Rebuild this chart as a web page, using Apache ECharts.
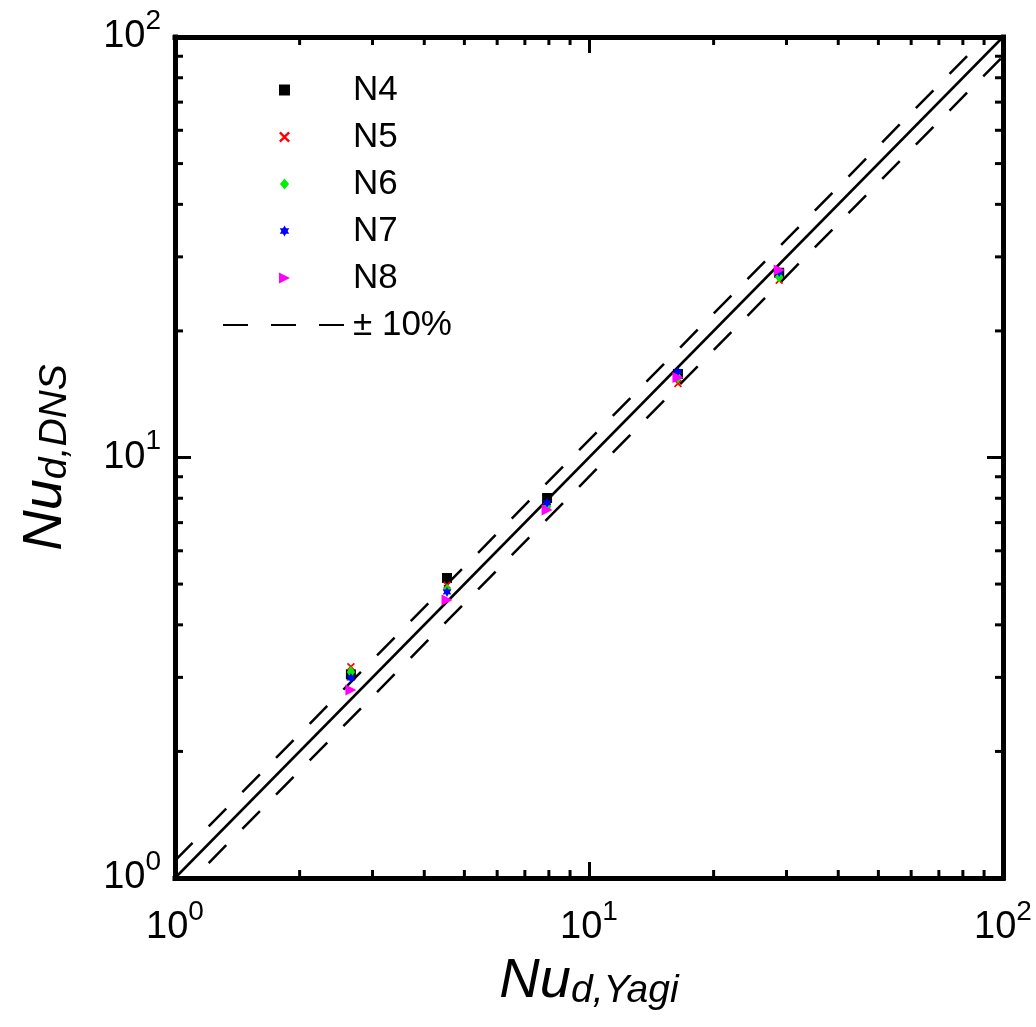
<!DOCTYPE html>
<html>
<head>
<meta charset="utf-8">
<style>
  html, body { margin: 0; padding: 0; background: #fff; }
  #chart { width: 1036px; height: 1027px; }
</style>
<script src="https://cdn.jsdelivr.net/npm/echarts@6/dist/echarts.min.js"></script>
</head>
<body>
<div id="chart"></div>
<script>
// Nusselt number: Yagi correlation (x) vs DNS (y), for five cases
const nuYagi = [2.66, 4.54, 7.92, 16.4, 28.8];
const nuN4 = [3.05, 5.17, 8.01, 15.8, 27.5];
const nuN5 = [3.18, 4.97, 7.65, 15.0, 26.4];
const nuN6 = [3.09, 4.85, 7.65, 15.5, 26.9];
const nuN7 = [2.99, 4.79, 7.80, 16.0, 27.6];
const nuN8 = [2.80, 4.58, 7.50, 15.5, 27.9];

const caseNames = ['N4', 'N5', 'N6', 'N7', 'N8'];
const bandLabel = '\u00b1 10%';
const band = 0.10;

// axis range and tick labels (powers of ten)
const axisMin = 1, axisMax = 100;
const decadeExponents = { 1: '0', 10: '1', 100: '2' };
const minorTickValues = [2, 3, 4, 5, 6, 7, 8, 9, 20, 30, 40, 50, 60, 70, 80, 90];

const FONT = 'Liberation Sans, Arial, Helvetica, sans-serif';

// marker shapes
function starPath() {
  const pts = [];
  for (let k = 0; k < 12; k++) {
    const a = -Math.PI / 2 + k * Math.PI / 6;
    const r = k % 2 === 0 ? 10 : 5.6;
    pts.push((10 + r * Math.cos(a)).toFixed(2) + ',' + (10 + r * Math.sin(a)).toFixed(2));
  }
  return 'path://M' + pts.join(' L') + ' Z';
}
const markers = {
  N4: { symbol: 'path://M0,0 H10 V10 H0 Z', size: 10, color: '#000000' },
  N5: { symbol: 'path://M0,1.5 L1.5,0 L5,3.5 L8.5,0 L10,1.5 L6.5,5 L10,8.5 L8.5,10 L5,6.5 L1.5,10 L0,8.5 L3.5,5 Z', size: 8, color: '#ff0000' },
  N6: { symbol: 'path://M5,0 L10,6 L5,12 L0,6 Z', size: [10, 12], color: '#00ee00' },
  N7: { symbol: starPath(), size: 10, color: '#0000ff' },
  N8: { symbol: 'path://M0,0 L10,5 L0,10 Z', size: 11, color: '#ff00ff' }
};
const caseValues = { N4: nuN4, N5: nuN5, N6: nuN6, N7: nuN7, N8: nuN8 };

function tickLabel(v) {
  const e = decadeExponents[Math.round(v)];
  return e === undefined ? '' : '{b|10}{s|' + e + '}';
}
const tickRich = {
  b: { fontFamily: FONT, fontSize: 38, lineHeight: 60, color: '#000' },
  s: { fontFamily: FONT, fontSize: 28, lineHeight: 20, verticalAlign: 'top', color: '#000' }
};
const titleRich = {
  n: { fontFamily: FONT, fontStyle: 'italic', fontSize: 56, lineHeight: 60, color: '#000' },
  d: { fontFamily: FONT, fontStyle: 'italic', fontSize: 39, lineHeight: 16, verticalAlign: 'bottom', color: '#000' }
};

const frameLine = { show: true, onZero: false, lineStyle: { color: '#000', width: 5, cap: 'square' } };
const majorTick = { show: true, inside: true, length: 16, lineStyle: { color: '#000', width: 3 } };

function logAxis(extra) {
  return Object.assign({
    type: 'log', logBase: 10, min: axisMin, max: axisMax,
    axisLine: frameLine, axisTick: majorTick,
    splitLine: { show: false }, minorTick: { show: false }
  }, extra);
}

const scatterSeries = caseNames.map(name => ({
  name: name,
  type: 'scatter',
  symbol: markers[name].symbol,
  symbolSize: markers[name].size,
  symbolKeepAspect: true,
  itemStyle: { color: markers[name].color, opacity: 1 },
  data: nuYagi.map((x, i) => [x, caseValues[name][i]]),
  z: 5
}));

function refLine(name, factor, dashed) {
  return {
    name: name, type: 'line', symbol: 'none', silent: true, clip: true,
    itemStyle: { color: '#000', opacity: 0 },
    lineStyle: { color: '#000', width: 2.5, type: dashed ? [25, 23] : 'solid' },
    data: [[axisMin, axisMin * factor], [axisMax, axisMax * factor]],
    z: 3
  };
}

const option = {
  animation: false,
  backgroundColor: '#fff',
  grid: { left: 175, right: 33, top: 37, bottom: 149, containLabel: false },
  xAxis: [
    logAxis({
      position: 'bottom',
      name: '{n|Nu}{d|d,Yagi}', nameLocation: 'middle', nameGap: 73,
      nameTextStyle: { rich: titleRich },
      axisLabel: { show: true, margin: 20, formatter: tickLabel, rich: tickRich, showMinLabel: true, showMaxLabel: true }
    }),
    logAxis({ position: 'top', axisLabel: { show: false } })
  ],
  yAxis: [
    logAxis({
      position: 'left',
      name: '{n|Nu}{d|d,DNS}', nameLocation: 'middle', nameGap: 100,
      nameTextStyle: { rich: titleRich },
      axisLabel: { show: true, margin: 14, formatter: tickLabel, rich: tickRich, showMinLabel: true, showMaxLabel: true }
    }),
    logAxis({ position: 'right', axisLabel: { show: false } })
  ],
  legend: {
    orient: 'vertical', left: 217, top: 67,
    itemWidth: 123, itemHeight: 11, itemGap: 11,
    symbolKeepAspect: true,
    data: caseNames.map(n => ({ name: n })).concat([{ name: bandLabel, itemStyle: { opacity: 0 } }]),
    textStyle: { fontFamily: FONT, fontSize: 35, lineHeight: 36, color: '#000', padding: [0, 0, 0, 2] },
    selectedMode: false
  },
  series: [
    refLine('y = x', 1, false),
    refLine(bandLabel, 1 + band, true),
    refLine(bandLabel, 1 - band, true)
  ].concat(scatterSeries).concat([{
    // decade sub-divisions drawn on all four sides of the frame
    type: 'custom', coordinateSystem: 'cartesian2d', silent: true, clip: false,
    data: minorTickValues.map(v => [v, v]),
    encode: { x: 0, y: 1 },
    renderItem: function (params, api) {
      const v = api.value(0);
      const b = api.coord([v, axisMin]), t = api.coord([v, axisMax]);
      const l = api.coord([axisMin, v]), r = api.coord([axisMax, v]);
      const L = 8;
      const style = { stroke: '#000', lineWidth: 3 };
      return { type: 'group', children: [
        { type: 'line', shape: { x1: b[0], y1: b[1], x2: b[0], y2: b[1] - L }, style: style },
        { type: 'line', shape: { x1: t[0], y1: t[1], x2: t[0], y2: t[1] + L }, style: style },
        { type: 'line', shape: { x1: l[0], y1: l[1], x2: l[0] + L, y2: l[1] }, style: style },
        { type: 'line', shape: { x1: r[0], y1: r[1], x2: r[0] - L, y2: r[1] }, style: style }
      ] };
    },
    z: 4
  }])
};

const chart = echarts.init(document.getElementById('chart'), null, { renderer: 'canvas' });
chart.setOption(option);
</script>
</body>
</html>
